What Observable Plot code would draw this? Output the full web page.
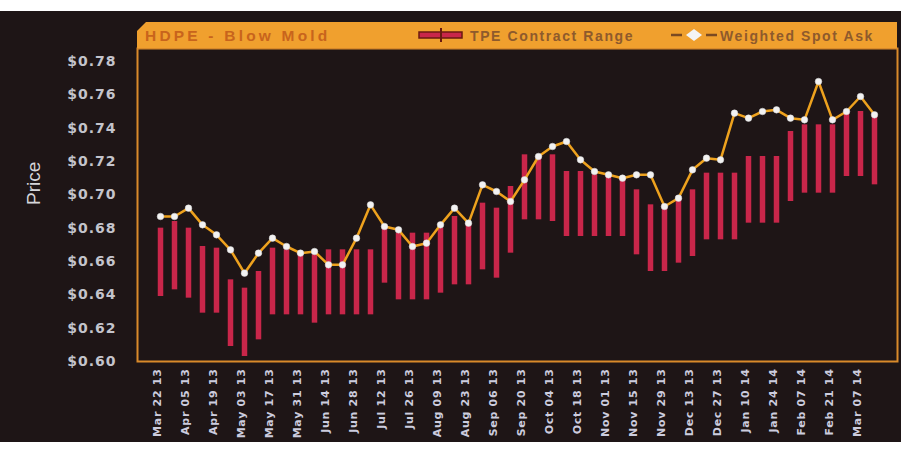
<!DOCTYPE html>
<html><head><meta charset="utf-8">
<script src="https://cdn.jsdelivr.net/npm/d3@7"></script>
<script src="https://cdn.jsdelivr.net/npm/@observablehq/plot@0.6"></script>
<style>
body{margin:0;background:#fff;}
#wrap{position:relative;width:901px;height:452px;overflow:hidden;background:linear-gradient(#fff 0 11px,#1e1516 11px 442px,#fff 442px);}
#hdr{position:absolute;left:137px;top:22px;width:760px;height:26px;background:#f0a02e;clip-path:polygon(9px 0,100% 0,100% 100%,0 100%,0 9px);font-family:"Liberation Sans",Arial,sans-serif;}
#hdr .t{position:absolute;left:8px;top:5px;font-size:15.5px;font-weight:bold;letter-spacing:3.2px;color:#c8641c;white-space:nowrap;}
#hdr .l{position:absolute;top:6px;font-size:14px;font-weight:bold;letter-spacing:1.6px;color:#8e5a2c;white-space:nowrap;}
#hdr svg.i{position:absolute;}
#chart svg{display:block;}
#chart g[aria-label="y-axis tick label"] text{letter-spacing:1px;}
#chart g[aria-label="x-axis tick label"] text{letter-spacing:0.7px;}
</style></head>
<body>
<div id="wrap">
<div id="chart"></div>
<div id="hdr">
  <div class="t">HDPE - Blow Mold</div>
  <svg class="i" style="left:281px;top:6px" width="46" height="14"><rect x="1" y="4" width="43" height="6" fill="#c9264a" stroke="#6a1a10" stroke-width="1.5"/><line x1="23" x2="23" y1="0" y2="14" stroke="#6a1a10" stroke-width="2"/></svg>
  <div class="l" style="left:333px">TPE Contract Range</div>
  <svg class="i" style="left:533px;top:6px" width="48" height="14"><line x1="1" x2="12" y1="7" y2="7" stroke="#7a4a22" stroke-width="2.5"/><line x1="36" x2="47" y1="7" y2="7" stroke="#7a4a22" stroke-width="2.5"/><path d="M24 1 L32 7 L24 13 L16 7 Z" fill="#f4f4f4"/></svg>
  <div class="l" style="left:583px">Weighted Spot Ask</div>
</div>
</div>
<script>
const weeks = ["Mar 22 13","Mar 29 13","Apr 05 13","Apr 12 13","Apr 19 13","Apr 26 13","May 03 13","May 10 13","May 17 13","May 24 13","May 31 13","Jun 07 13","Jun 14 13","Jun 21 13","Jun 28 13","Jul 05 13","Jul 12 13","Jul 19 13","Jul 26 13","Aug 02 13","Aug 09 13","Aug 16 13","Aug 23 13","Aug 30 13","Sep 06 13","Sep 13 13","Sep 20 13","Sep 27 13","Oct 04 13","Oct 11 13","Oct 18 13","Oct 25 13","Nov 01 13","Nov 08 13","Nov 15 13","Nov 22 13","Nov 29 13","Dec 06 13","Dec 13 13","Dec 20 13","Dec 27 13","Jan 03 14","Jan 10 14","Jan 17 14","Jan 24 14","Jan 31 14","Feb 07 14","Feb 14 14","Feb 21 14","Feb 28 14","Mar 07 14","Mar 14 14"];
const labeledWeeks = ["Mar 22 13","Apr 05 13","Apr 19 13","May 03 13","May 17 13","May 31 13","Jun 14 13","Jun 28 13","Jul 12 13","Jul 26 13","Aug 09 13","Aug 23 13","Sep 06 13","Sep 20 13","Oct 04 13","Oct 18 13","Nov 01 13","Nov 15 13","Nov 29 13","Dec 13 13","Dec 27 13","Jan 10 14","Jan 24 14","Feb 07 14","Feb 21 14","Mar 07 14"];
const spotAsk = [0.687,0.687,0.692,0.682,0.676,0.667,0.653,0.665,0.674,0.669,0.665,0.666,0.658,0.658,0.674,0.694,0.681,0.679,0.669,0.671,0.682,0.692,0.683,0.706,0.702,0.696,0.709,0.723,0.729,0.732,0.721,0.714,0.712,0.710,0.712,0.712,0.693,0.698,0.715,0.722,0.721,0.749,0.746,0.750,0.751,0.746,0.745,0.768,0.745,0.750,0.759,0.748];
const contractHigh = [0.680,0.684,0.680,0.669,0.668,0.649,0.644,0.654,0.668,0.667,0.664,0.664,0.667,0.667,0.667,0.667,0.680,0.677,0.677,0.677,0.680,0.687,0.683,0.695,0.692,0.705,0.724,0.723,0.724,0.714,0.714,0.712,0.712,0.711,0.703,0.694,0.694,0.699,0.703,0.713,0.713,0.713,0.723,0.723,0.723,0.738,0.742,0.742,0.742,0.749,0.750,0.747];
const contractLow = [0.639,0.643,0.638,0.629,0.629,0.609,0.603,0.613,0.628,0.628,0.628,0.623,0.628,0.628,0.628,0.628,0.647,0.637,0.637,0.637,0.641,0.646,0.646,0.655,0.650,0.665,0.685,0.685,0.684,0.675,0.675,0.675,0.675,0.675,0.664,0.654,0.654,0.659,0.663,0.673,0.673,0.673,0.683,0.683,0.683,0.696,0.701,0.701,0.701,0.711,0.711,0.706];
const yTicks = [0.60,0.62,0.64,0.66,0.68,0.70,0.72,0.74,0.76,0.78];

const data = weeks.map((w, i) => ({week: w, spot: spotAsk[i], hi: contractHigh[i], lo: contractLow[i]}));
const labelSet = new Set(labeledWeeks);

const chart = Plot.plot({
  width: 901, height: 452,
  marginLeft: 137, marginRight: 4, marginTop: 48, marginBottom: 91,
  style: {background: "transparent", fontFamily: "DejaVu Sans, sans-serif"},
  x: {type: "point", domain: weeks, padding: 0.69, axis: null},
  y: {domain: [0.60, 0.7878], axis: null},
  marks: [
    Plot.ruleX(data, {x: "week", y1: "lo", y2: "hi", stroke: "#c9264a", strokeWidth: 5.5}),
    Plot.line(data, {x: "week", y: "spot", stroke: "#eea21e", strokeWidth: 2.5}),
    Plot.dot(data, {x: "week", y: "spot", r: 3.3, fill: "#f2f2f2", stroke: "#d8d8d8", strokeWidth: 0.5}),
    Plot.frame({stroke: "#d98a2a", strokeWidth: 2}),
    Plot.axisY({ticks: yTicks, tickFormat: d => "$" + d.toFixed(2), tickSize: 0, tickPadding: 21, fontSize: 14, fontWeight: "bold", fill: "#c4c4cc", label: null}),
    Plot.axisX({ticks: labeledWeeks, tickFormat: d => labelSet.has(d) ? d : "", tickSize: 0, tickPadding: 7, tickRotate: -90, fontSize: 11, fontWeight: "bold", fill: "#ccccde", label: null, dx: -3}),
    Plot.text(["Price"], {frameAnchor: "left", dx: -104, rotate: -90, fontSize: 19, fill: "#d6d6da", fontFamily: "Liberation Sans, Arial, sans-serif"})
  ]
});
document.getElementById("chart").appendChild(chart);
</script>
</body></html>
